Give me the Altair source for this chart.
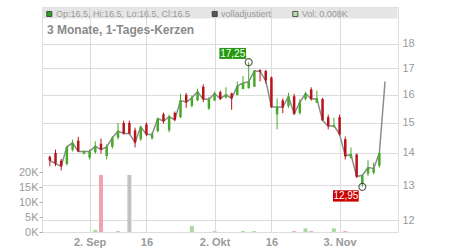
import altair as alt
import pandas as pd

# ---------------- data ----------------
tick_idx = [7, 17, 29, 39, 51]
tick_labels = ["2. Sep", "16", "2. Okt", "16", "3. Nov"]

opens = [13.88, 14.00, 13.75, 13.65, 14.10, 14.40, 13.98, 13.85, 14.02, 14.30,
         13.90, 14.20, 14.50, 15.00, 15.00, 14.75, 14.45, 14.95, 14.48, 14.72,
         15.30, 14.75, 15.35, 15.20, 16.00, 15.60, 15.80, 16.30, 15.50, 15.80,
         16.10, 15.90, 16.05, 16.00, 16.22, 16.25, 16.30, 16.95, 16.90, 16.65,
         15.30, 15.80, 15.60, 15.95, 15.35, 15.85, 16.20, 15.72, 15.85, 15.20,
         14.86, 15.20, 14.45, 13.85, 13.95, 13.05, 13.35, 13.38, 13.60, 16.50]
highs = [13.91, 14.11, 13.81, 14.20, 14.44, 14.53, 14.08, 14.11, 14.38, 14.47,
         14.28, 14.55, 15.00, 15.08, 15.08, 14.84, 14.89, 15.02, 14.68, 15.18,
         15.36, 15.29, 15.40, 16.04, 16.07, 15.98, 16.23, 16.39, 15.92, 16.12,
         16.16, 16.28, 16.08, 16.50, 16.71, 17.25, 16.94, 16.95, 16.95, 16.69,
         15.87, 15.87, 16.08, 16.04, 15.84, 16.12, 16.28, 16.16, 15.89, 15.29,
         15.18, 15.29, 14.54, 14.18, 13.98, 13.32, 13.77, 13.69, 14.01, 16.50]
lows = [13.58, 13.58, 13.45, 13.60, 14.05, 14.05, 13.95, 13.79, 13.98, 13.98,
        13.79, 14.14, 14.44, 14.61, 14.61, 14.18, 14.39, 14.55, 14.44, 14.68,
        14.98, 14.68, 15.06, 15.17, 15.53, 15.55, 15.77, 15.74, 15.46, 15.77,
        15.81, 15.87, 15.46, 15.98, 16.20, 16.23, 16.29, 16.50, 16.42, 15.53,
        14.78, 15.34, 15.53, 15.29, 15.29, 15.80, 15.79, 15.70, 15.08, 14.78,
        14.84, 14.58, 13.79, 13.82, 13.22, 12.95, 13.28, 13.33, 13.54, 16.50]
closes = [13.76, 13.66, 13.58, 14.20, 14.33, 14.05, 14.05, 14.05, 14.22, 14.11,
          14.20, 14.50, 14.72, 14.64, 14.64, 14.34, 14.87, 14.61, 14.61, 15.15,
          15.06, 15.22, 15.11, 15.80, 15.73, 15.89, 16.12, 15.84, 15.84, 16.05,
          15.86, 16.01, 15.87, 16.33, 16.44, 16.49, 16.91, 16.88, 16.54, 15.56,
          15.56, 15.55, 15.94, 15.32, 15.73, 16.05, 15.85, 15.86, 15.09, 14.89,
          14.91, 14.61, 13.90, 13.95, 13.26, 13.30, 13.54, 13.51, 14.00, 16.50]
volumes = [0, 0, 0, 0, 0, 0, 0, 0, 700, 19000,
           0, 0, 300, 0, 19000, 0, 0, 0, 0, 0,
           0, 0, 0, 0, 0, 2000, 0, 0, 0, 300,
           0, 0, 0, 0, 300, 0, 300, 0, 0, 0,
           0, 0, 0, 300, 0, 1200, 300, 0, 0, 0,
           1200, 0, 300, 0, 0, 0, 0, 0, 0, 0]
vol_dir = ["up", "down", "down", "up", "up", "down", "flat", "flat", "up", "down",
           "up", "up", "up", "down", "flat", "down", "up", "down", "flat", "up",
           "down", "up", "down", "up", "down", "up", "up", "down", "flat", "up",
           "down", "up", "down", "up", "up", "up", "up", "down", "down", "down",
           "flat", "down", "up", "down", "up", "up", "down", "up", "down", "down",
           "up", "down", "down", "up", "down", "up", "up", "down", "up", "up"]

marker_idx = [35, 55]
marker_val = [17.25, 12.95]
marker_txt = ["17,25", "12,95"]

title_text = "3 Monate, 1-Tages-Kerzen"
legend_texts = ["Op:16.5, Hi:16.5, Lo:16.5, Cl:16.5", "volladjustiert", "Vol: 0.008K"]

# ---------------- styling ----------------
GREEN = "#46a92a"
RED = "#b8141c"
FONT = "Liberation Sans"
GRID = "#dcdcdc"
LABEL = "#9a9a9a"

df = pd.DataFrame({"i": list(range(len(closes))), "open": opens, "high": highs,
                   "low": lows, "close": closes, "vol": volumes, "vdir": vol_dir})
df["dir"] = ["up" if c >= o else "down" for o, c in zip(opens, closes)]

expr = "''"
for v, t in zip(reversed(tick_idx), reversed(tick_labels)):
    expr = f"datum.value == {v} ? '{t}' : ({expr})"

X = alt.X("i:Q",
          scale=alt.Scale(domain=[-0.5, 60.4], nice=False, zero=False),
          axis=alt.Axis(values=tick_idx, labelExpr=expr, grid=True, gridColor=GRID,
                        domain=False, ticks=False, labelFontWeight="bold",
                        labelColor=LABEL, labelFontSize=11, labelPadding=4,
                        labelFlush=False, title=None, labelFont=FONT))

price_scale = alt.Scale(type="log", domain=[11.675, 19.58], nice=False, zero=False)
price_axis = alt.Axis(orient="right", values=[12, 13, 14, 15, 16, 17, 18], format="d",
                      grid=True, gridColor=GRID, domain=False, ticks=False,
                      labelColor=LABEL, labelFontSize=11, labelPadding=4,
                      title=None, labelFont=FONT)


def PY(field):
    return alt.Y(field, type="quantitative", scale=price_scale, axis=price_axis)


dir_color = alt.Color("dir:N", scale=alt.Scale(domain=["up", "down"], range=[GREEN, RED]),
                      legend=None)

base = alt.Chart(df)

# volume layer
volume = base.mark_bar(size=4).encode(
    x=X,
    y=alt.Y("vol:Q", scale=alt.Scale(domain=[0, 75000], nice=False),
            axis=alt.Axis(orient="left", values=[0, 5000, 10000, 15000, 20000],
                          labelExpr="(datum.value/1000) + 'K'", grid=False, domain=False,
                          ticks=True, tickSize=3, tickColor="#aaaaaa",
                          labelColor=LABEL, labelFontSize=11, labelPadding=1,
                          title=None, labelFont=FONT)),
    color=alt.Color("vdir:N", scale=alt.Scale(domain=["up", "down", "flat"],
                                              range=["#a9dba1", "#eda6ae", "#c2c2c2"]),
                    legend=None),
).transform_filter("datum.vol > 0")

line = base.mark_line(color="#8c8c8c", strokeWidth=1.5).encode(x=X, y=PY("close"))
wicks = base.mark_rule(strokeWidth=1).encode(x=X, y=PY("low"), y2="high:Q", color=dir_color)
bodies = base.mark_rule(strokeWidth=2.5).encode(x=X, y=PY("open"), y2="close:Q", color=dir_color)

mk = pd.DataFrame({"i": marker_idx, "v": marker_val, "t": marker_txt})
mk_hi = alt.Chart(mk.iloc[[0]])
mk_lo = alt.Chart(mk.iloc[[1]])

circles = alt.Chart(mk).mark_point(shape="circle", size=48, filled=False,
                                   stroke="#222222", strokeWidth=1.2).encode(x=X, y=PY("v"))
hi_box = mk_hi.mark_rect(color="#25990f", xOffset=-29.3, x2Offset=-2.6,
                         yOffset=-14.2, y2Offset=-3.2).encode(
    x=X, x2="i:Q", y=PY("v"), y2="v:Q")
hi_txt = mk_hi.mark_text(color="white", fontSize=10, font=FONT, dx=-16, dy=-8.5,
                         align="center", baseline="middle").encode(x=X, y=PY("v"), text="t:N")
lo_box = mk_lo.mark_rect(color="#cc0000", xOffset=-29.3, x2Offset=-3.6,
                         yOffset=3.4, y2Offset=14.7).encode(
    x=X, x2="i:Q", y=PY("v"), y2="v:Q")
lo_txt = mk_lo.mark_text(color="white", fontSize=10, font=FONT, dx=-16.4, dy=9.2,
                         align="center", baseline="middle").encode(x=X, y=PY("v"), text="t:N")

price = alt.layer(line, wicks, bodies, circles, hi_box, hi_txt, lo_box, lo_txt)

# header band, grid pieces over it, legend and title
band = alt.Chart(pd.DataFrame({"k": [0]})).mark_rect(color="#e5e5e5").encode(
    x=alt.value(0.5), x2=alt.value(355.5), y=alt.value(0.5), y2=alt.value(11.6))
band_grid = alt.Chart(pd.DataFrame({"i": tick_idx})).mark_rule(color="#d2d2d2").encode(
    x=X, y=alt.value(0.5), y2=alt.value(11.6))

legend_fill = [("#2e9e1e", "#333333"), ("#555555", "#333333"), ("#b6e0ae", "#333333")]
legend_sq_x = [7.3, 172.7, 253.3]
legend_tx_x = [14, 179, 259.7]
header = []
for txt, (fc, sc), sx, tx in zip(legend_texts, legend_fill, legend_sq_x, legend_tx_x):
    d = pd.DataFrame({"t": [txt]})
    header.append(alt.Chart(d).mark_square(size=26, fill=fc, stroke=sc, strokeWidth=0.8,
                                           opacity=1).encode(x=alt.value(sx), y=alt.value(7)))
    header.append(alt.Chart(d).mark_text(align="left", baseline="alphabetic", fontSize=9,
                                         font=FONT, color="#9a9a9a").encode(
        x=alt.value(tx), y=alt.value(9.6), text="t:N"))

title = alt.Chart(pd.DataFrame({"t": [title_text]})).mark_text(
    align="left", baseline="alphabetic", fontSize=12, fontWeight="bold", font=FONT,
    color="#8a8a8a").encode(x=alt.value(5), y=alt.value(27.4), text="t:N")

chart = alt.layer(band, band_grid, *header, title, volume, price).resolve_scale(
    y="independent", color="independent"
).properties(
    width=356, height=225,
    padding={"left": 42, "top": 7, "right": 52, "bottom": 18},
    autosize=alt.AutoSizeParams(type="none"),
).configure_view(stroke="#b4b4b4", strokeWidth=1).configure(font=FONT)

chart.save("out.html", embed_options={"renderer": "svg", "actions": False})
